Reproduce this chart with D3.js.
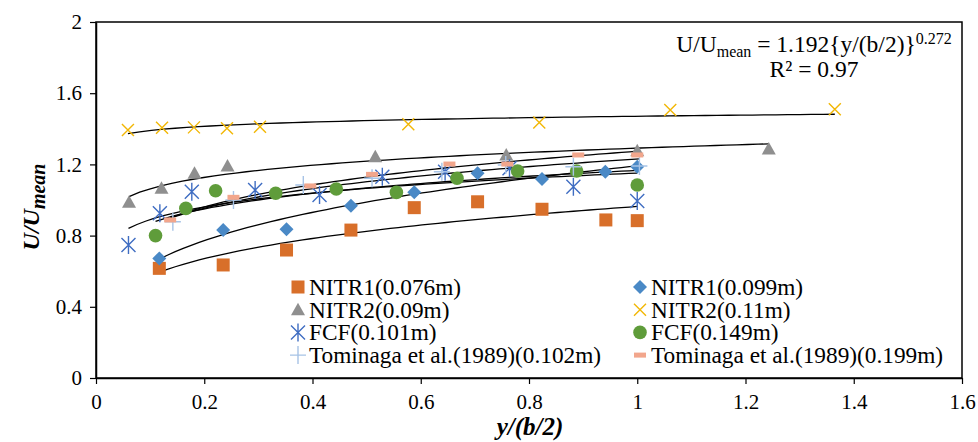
<!DOCTYPE html>
<html>
<head>
<meta charset="utf-8">
<script src="https://cdn.jsdelivr.net/npm/d3@7"></script>
<style>
    body { margin: 0; background: #fff; }
</style>
</head>
<body>
<svg id="chart" width="978" height="442"></svg>
<script>
// series
const seriesNames = ['NITR1(0.076m)', 'NITR1(0.099m)', 'NITR2(0.09m)', 'NITR2(0.11m)',
    'FCF(0.101m)', 'FCF(0.149m)', 'Tominaga et al.(1989)(0.102m)', 'Tominaga et al.(1989)(0.199m)'];

const nitr1a_x = [0.117, 0.235, 0.352, 0.471, 0.588, 0.705, 0.824, 0.942, 1.0];
const nitr1a_y = [0.616, 0.635, 0.719, 0.831, 0.957, 0.990, 0.948, 0.888, 0.884];
const nitr1b_x = [0.117, 0.235, 0.352, 0.471, 0.588, 0.705, 0.824, 0.941, 1.0];
const nitr1b_y = [0.672, 0.831, 0.835, 0.968, 1.043, 1.150, 1.118, 1.159, 1.187];
const nitr2a_x = [0.061, 0.121, 0.182, 0.243, 0.516, 0.758, 1.0, 1.243];
const nitr2a_y = [0.987, 1.066, 1.150, 1.191, 1.243, 1.253, 1.277, 1.287];
const nitr2b_x = [0.059, 0.122, 0.181, 0.242, 0.303, 0.577, 0.819, 1.061, 1.365];
const nitr2b_y = [1.393, 1.406, 1.408, 1.403, 1.412, 1.425, 1.436, 1.506, 1.510];
const fcfa_x = [0.060, 0.118, 0.177, 0.294, 0.413, 0.529, 0.645, 0.764, 0.882, 1.0];
const fcfa_y = [0.747, 0.925, 1.047, 1.056, 1.028, 1.131, 1.159, 1.178, 1.075, 0.994];
const fcfb_x = [0.110, 0.166, 0.221, 0.332, 0.444, 0.555, 0.667, 0.779, 0.888, 1.0];
const fcfb_y = [0.800, 0.953, 1.052, 1.038, 1.062, 1.043, 1.122, 1.163, 1.163, 1.084];
const toma_x = [0.142, 0.254, 0.383, 0.510, 0.639, 0.757, 0.882, 1.004];
const toma_y = [0.878, 1.000, 1.084, 1.122, 1.159, 1.197, 1.187, 1.191];
const tomb_x = [0.137, 0.254, 0.396, 0.510, 0.653, 0.760, 0.891, 1.0];
const tomb_y = [0.888, 1.015, 1.079, 1.144, 1.202, 1.202, 1.253, 1.253];

const xTicks = [0, 0.2, 0.4, 0.6, 0.8, 1, 1.2, 1.4, 1.6];
const yTicks = [0, 0.4, 0.8, 1.2, 1.6, 2];

const allX = [nitr1a_x, nitr1b_x, nitr2a_x, nitr2b_x, fcfa_x, fcfb_x, toma_x, tomb_x];
const allY = [nitr1a_y, nitr1b_y, nitr2a_y, nitr2b_y, fcfa_y, fcfb_y, toma_y, tomb_y];

// marker styles per series
const styles = [
    { shape: 'square', color: '#D86F2A' },
    { shape: 'diamond', color: '#4A89C6' },
    { shape: 'triangle', color: '#8F8F8F' },
    { shape: 'cross', color: '#F2B705' },
    { shape: 'star', color: '#3F6DC2' },
    { shape: 'circle', color: '#5F9C3A' },
    { shape: 'plus', color: '#A7C3E6' },
    { shape: 'dash', color: '#F2A68C' }
];

const FONT = '"Liberation Serif"';
const width = 978, height = 442;
const margin = { top: 22, right: 16, bottom: 64, left: 96 };
const svg = d3.select('#chart');

const x = d3.scaleLinear().domain([0, 1.6]).range([margin.left, width - margin.right]);
const y = d3.scaleLinear().domain([0, 2]).range([height - margin.bottom, margin.top]);

// plot frame
svg.append('rect')
    .attr('x', margin.left).attr('y', margin.top)
    .attr('width', width - margin.left - margin.right)
    .attr('height', height - margin.top - margin.bottom)
    .attr('fill', 'none').attr('stroke', '#000').attr('stroke-width', 1.5);

// axes
const xAxis = svg.append('g')
    .attr('transform', `translate(0,${height - margin.bottom})`)
    .call(d3.axisBottom(x).tickValues(xTicks).tickFormat(d3.format('')).tickSizeInner(6).tickSizeOuter(0).tickPadding(10));
const yAxis = svg.append('g')
    .attr('transform', `translate(${margin.left},0)`)
    .call(d3.axisLeft(y).tickValues(yTicks).tickFormat(d3.format('')).tickSizeInner(6).tickSizeOuter(0).tickPadding(8));
[xAxis, yAxis].forEach(a => {
    a.attr('font-family', null).attr('font-size', null);
    a.select('.domain').attr('stroke', '#000').attr('stroke-width', 1.5);
    a.selectAll('.tick line').attr('stroke', '#000').attr('stroke-width', 1.2);
    a.selectAll('.tick text').attr('fill', '#000').style('font-size', '21px').style('font-family', FONT);
});

// power trendline, least squares in log space (like the spreadsheet)
function powerFit(xs, ys) {
    const lx = xs.map(Math.log), ly = ys.map(Math.log);
    const mx = d3.mean(lx), my = d3.mean(ly);
    const b = d3.sum(lx, (v, i) => (v - mx) * (ly[i] - my)) / d3.sum(lx, v => (v - mx) * (v - mx));
    const a = Math.exp(my - b * mx);
    return v => a * Math.pow(v, b);
}

const line = d3.line().x(d => x(d[0])).y(d => y(d[1]));
const trendG = svg.append('g');
allX.forEach((xs, i) => {
    const f = powerFit(xs, allY[i]);
    const lo = d3.min(xs), hi = d3.max(xs);
    const pts = d3.range(0, 61).map(k => lo + (hi - lo) * k / 60).map(v => [v, f(v)]);
    trendG.append('path').attr('d', line(pts))
        .attr('fill', 'none').attr('stroke', '#000').attr('stroke-width', 1.3);
});

// draw a marker at (cx, cy)
function marker(g, shape, color, cx, cy) {
    const s = 6.5;
    if (shape === 'square') {
        g.append('rect').attr('x', cx - s).attr('y', cy - s).attr('width', 2 * s).attr('height', 2 * s).attr('fill', color);
    } else if (shape === 'diamond') {
        g.append('path').attr('d', `M${cx},${cy - 7}L${cx + 7},${cy}L${cx},${cy + 7}L${cx - 7},${cy}Z`).attr('fill', color);
    } else if (shape === 'triangle') {
        g.append('path').attr('d', `M${cx},${cy - 7}L${cx + 7},${cy + 5.5}L${cx - 7},${cy + 5.5}Z`).attr('fill', color);
    } else if (shape === 'circle') {
        g.append('circle').attr('cx', cx).attr('cy', cy).attr('r', 6.8).attr('fill', color);
    } else if (shape === 'cross') {
        g.append('path').attr('d', `M${cx - 6},${cy - 6}L${cx + 6},${cy + 6}M${cx + 6},${cy - 6}L${cx - 6},${cy + 6}`)
            .attr('stroke', color).attr('stroke-width', 1.4);
    } else if (shape === 'star') {
        g.append('path').attr('d', `M${cx - 7},${cy - 7}L${cx + 7},${cy + 7}M${cx + 7},${cy - 7}L${cx - 7},${cy + 7}M${cx},${cy - 9}L${cx},${cy + 9}`)
            .attr('stroke', color).attr('stroke-width', 1.4);
    } else if (shape === 'plus') {
        g.append('path').attr('d', `M${cx - 8},${cy}L${cx + 8},${cy}M${cx},${cy - 9}L${cx},${cy + 9}`)
            .attr('stroke', color).attr('stroke-width', 1.4);
    } else if (shape === 'dash') {
        g.append('rect').attr('x', cx - 6).attr('y', cy - 2.5).attr('width', 12).attr('height', 5).attr('fill', color);
    }
}

const markG = svg.append('g');
allX.forEach((xs, i) => {
    xs.forEach((v, k) => marker(markG, styles[i].shape, styles[i].color, x(v), y(allY[i][k])));
});

// legend, two columns
const legend = svg.append('g');
seriesNames.forEach((name, i) => {
    const col = i % 2, row = Math.floor(i / 2);
    const mx = col === 0 ? 298 : 640;
    const my = 287 + row * 22.7;
    marker(legend, styles[i].shape, styles[i].color, mx, my);
    legend.append('text').attr('x', mx + 11).attr('y', my + 8)
        .style('font-family', FONT).style('font-size', '23.3px').text(name);
});

// equation
const eq = svg.append('text').attr('x', 814).attr('y', 52).attr('text-anchor', 'middle')
    .style('font-family', FONT).style('font-size', '23.5px');
eq.append('tspan').text('U/U');
eq.append('tspan').style('font-size', '16px').attr('dy', 5).text('mean');
eq.append('tspan').attr('dy', -5).text(' = 1.192{y/(b/2)}');
eq.append('tspan').style('font-size', '16px').attr('dy', -8).text('0.272');
svg.append('text').attr('x', 814).attr('y', 77).attr('text-anchor', 'middle')
    .style('font-family', FONT).style('font-size', '23.5px').text('R² = 0.97');

// axis titles
const yt = svg.append('text')
    .attr('transform', 'translate(39,207) rotate(-90)')
    .attr('text-anchor', 'middle')
    .style('font-family', FONT).style('font-size', '24px').style('font-weight', 'bold').style('font-style', 'italic');
yt.append('tspan').text('U/U');
yt.append('tspan').style('font-size', '20px').attr('dy', 6).text('mean');

svg.append('text').attr('x', 530).attr('y', 435)
    .attr('text-anchor', 'middle')
    .style('font-family', FONT).style('font-size', '25px').style('font-weight', 'bold').style('font-style', 'italic')
    .text('y/(b/2)');
</script>
</body>
</html>
